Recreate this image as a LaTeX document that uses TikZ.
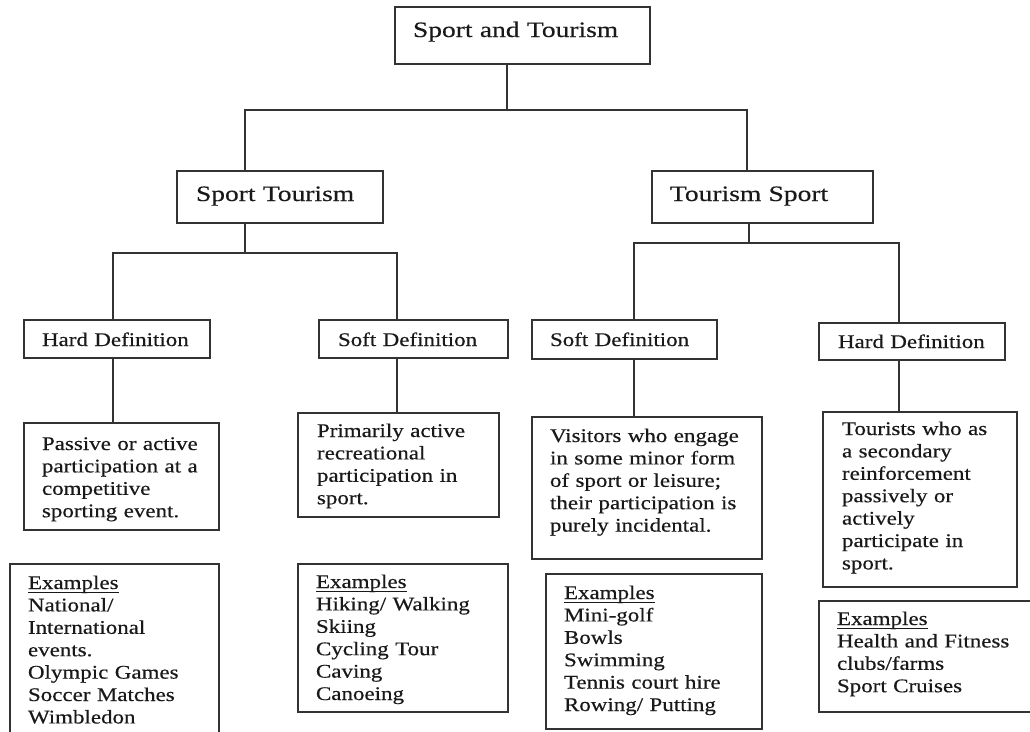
\documentclass[tikz,border=0pt]{standalone}
\usepackage{fontspec}
\setmainfont{Liberation Serif}
\newfontfamily\bigf{Liberation Serif}[FakeStretch=1.25,FakeBold=0.3]
\newfontfamily\smallf{Liberation Serif}[FakeStretch=1.19,FakeBold=0.4]
\newcommand\exul[1]{\setbox0\hbox{#1}\rlap{\rule[-3.6pt]{\wd0}{0.9pt}}\box0}
\tikzset{
  box/.style={draw=black!80, line width=1.3pt, inner sep=0pt, outer sep=0pt, anchor=north west, fill=white},
  conn/.style={draw=black!80, line width=1.3pt},
  bigtxt/.style={anchor=base west, inner sep=0pt, outer sep=0pt, text width=300pt, align=left,
    font=\bigf\fontsize{22}{26}\selectfont, text=black!90},
  txt/.style={anchor=base west, inner sep=0pt, outer sep=0pt, text width=300pt, align=left,
    font=\smallf\fontsize{19.3}{22.4}\selectfont, text=black!90}
}
\begin{document}
\begin{tikzpicture}[x=1pt,y=-1pt]
\clip (0,0) rectangle (1030,731);
\fill[white] (0,0) rectangle (1030,731);

% boxes
\node[box, minimum width=255pt, minimum height=57pt] (top) at (395,7) {};
\node[box, minimum width=206pt, minimum height=52pt] (st) at (177,171) {};
\node[box, minimum width=221pt, minimum height=52pt] (ts) at (652,171) {};

\node[box, minimum width=186pt, minimum height=38pt] (hdl) at (24,320) {};
\node[box, minimum width=189pt, minimum height=38pt] (sdl) at (319,320) {};
\node[box, minimum width=185pt, minimum height=39pt] (sdr) at (532,320) {};
\node[box, minimum width=186pt, minimum height=37pt] (hdr) at (819,323) {};

\node[box, minimum width=195pt, minimum height=107pt] (hdld) at (24,423) {};
\node[box, minimum width=201pt, minimum height=104pt] (sdld) at (298,413) {};
\node[box, minimum width=230pt, minimum height=142pt] (sdrd) at (532,417) {};
\node[box, minimum width=194pt, minimum height=175pt] (hdrd) at (823,412) {};

\node[box, minimum width=209pt, minimum height=190pt] (ex1) at (10,564) {};
\node[box, minimum width=210pt, minimum height=148pt] (ex2) at (298,564) {};
\node[box, minimum width=216pt, minimum height=155pt] (ex3) at (546,574) {};
\node[box, minimum width=240pt, minimum height=111pt] (ex4) at (819,601) {};

% texts
\node[bigtxt] (t0) at (413,37) {Sport and Tourism};
\node[bigtxt] (t1) at (196,201) {Sport Tourism};
\node[bigtxt] (t2) at (670,201) {Tourism Sport};

\node[txt] (t3) at (42,346) {Hard Definition};
\node[txt] (t4) at (338,346) {Soft Definition};
\node[txt] (t5) at (550,346) {Soft Definition};
\node[txt] (t6) at (838,348) {Hard Definition};

\node[txt] (t7) at (42,450) {Passive or active\\participation at a\\competitive\\sporting event.};
\node[txt] (t8) at (317,437) {Primarily active\\recreational\\participation in\\sport.};
\node[txt] (t9) at (550,442) {Visitors who engage\\in some minor form\\of sport or leisure;\\their participation is\\purely incidental.};
\node[txt] (t10) at (842,435) {Tourists who as\\a secondary\\reinforcement\\passively or\\actively\\participate in\\sport.};

\node[txt] (t11) at (28,589) {\exul{Examples}\\National/\\International\\events.\\Olympic Games\\Soccer Matches\\Wimbledon};
\node[txt] (t12) at (316,588) {\exul{Examples}\\Hiking/ Walking\\Skiing\\Cycling Tour\\Caving\\Canoeing};
\node[txt] (t13) at (564,599) {\exul{Examples}\\Mini-golf\\Bowls\\Swimming\\Tennis court hire\\Rowing/ Putting};
\node[txt] (t14) at (837,625) {\exul{Examples}\\Health and Fitness\\clubs/farms\\Sport Cruises};

% connectors
\coordinate (j0) at (507,110);
\coordinate (jL) at (245,110);
\coordinate (jR) at (747,110);
\draw[conn] (j0 |- top.south) -- (j0);
\draw[conn] (jL |- st.north) -- (jL) -- (jR) -- (jR |- ts.north);

\coordinate (j1) at (245,253);
\coordinate (j1L) at (113,253);
\coordinate (j1R) at (397,253);
\draw[conn] (j1 |- st.south) -- (j1);
\draw[conn] (j1L |- hdl.north) -- (j1L) -- (j1R) -- (j1R |- sdl.north);
\draw[conn] (j1L |- hdl.south) -- (j1L |- hdld.north);
\draw[conn] (j1R |- sdl.south) -- (j1R |- sdld.north);

\coordinate (j2) at (749,243);
\coordinate (j2L) at (634,243);
\coordinate (j2R) at (899,243);
\draw[conn] (j2 |- ts.south) -- (j2);
\draw[conn] (j2L |- sdr.north) -- (j2L) -- (j2R) -- (j2R |- hdr.north);
\draw[conn] (j2L |- sdr.south) -- (j2L |- sdrd.north);
\draw[conn] (j2R |- hdr.south) -- (j2R |- hdrd.north);
\end{tikzpicture}
\end{document}
